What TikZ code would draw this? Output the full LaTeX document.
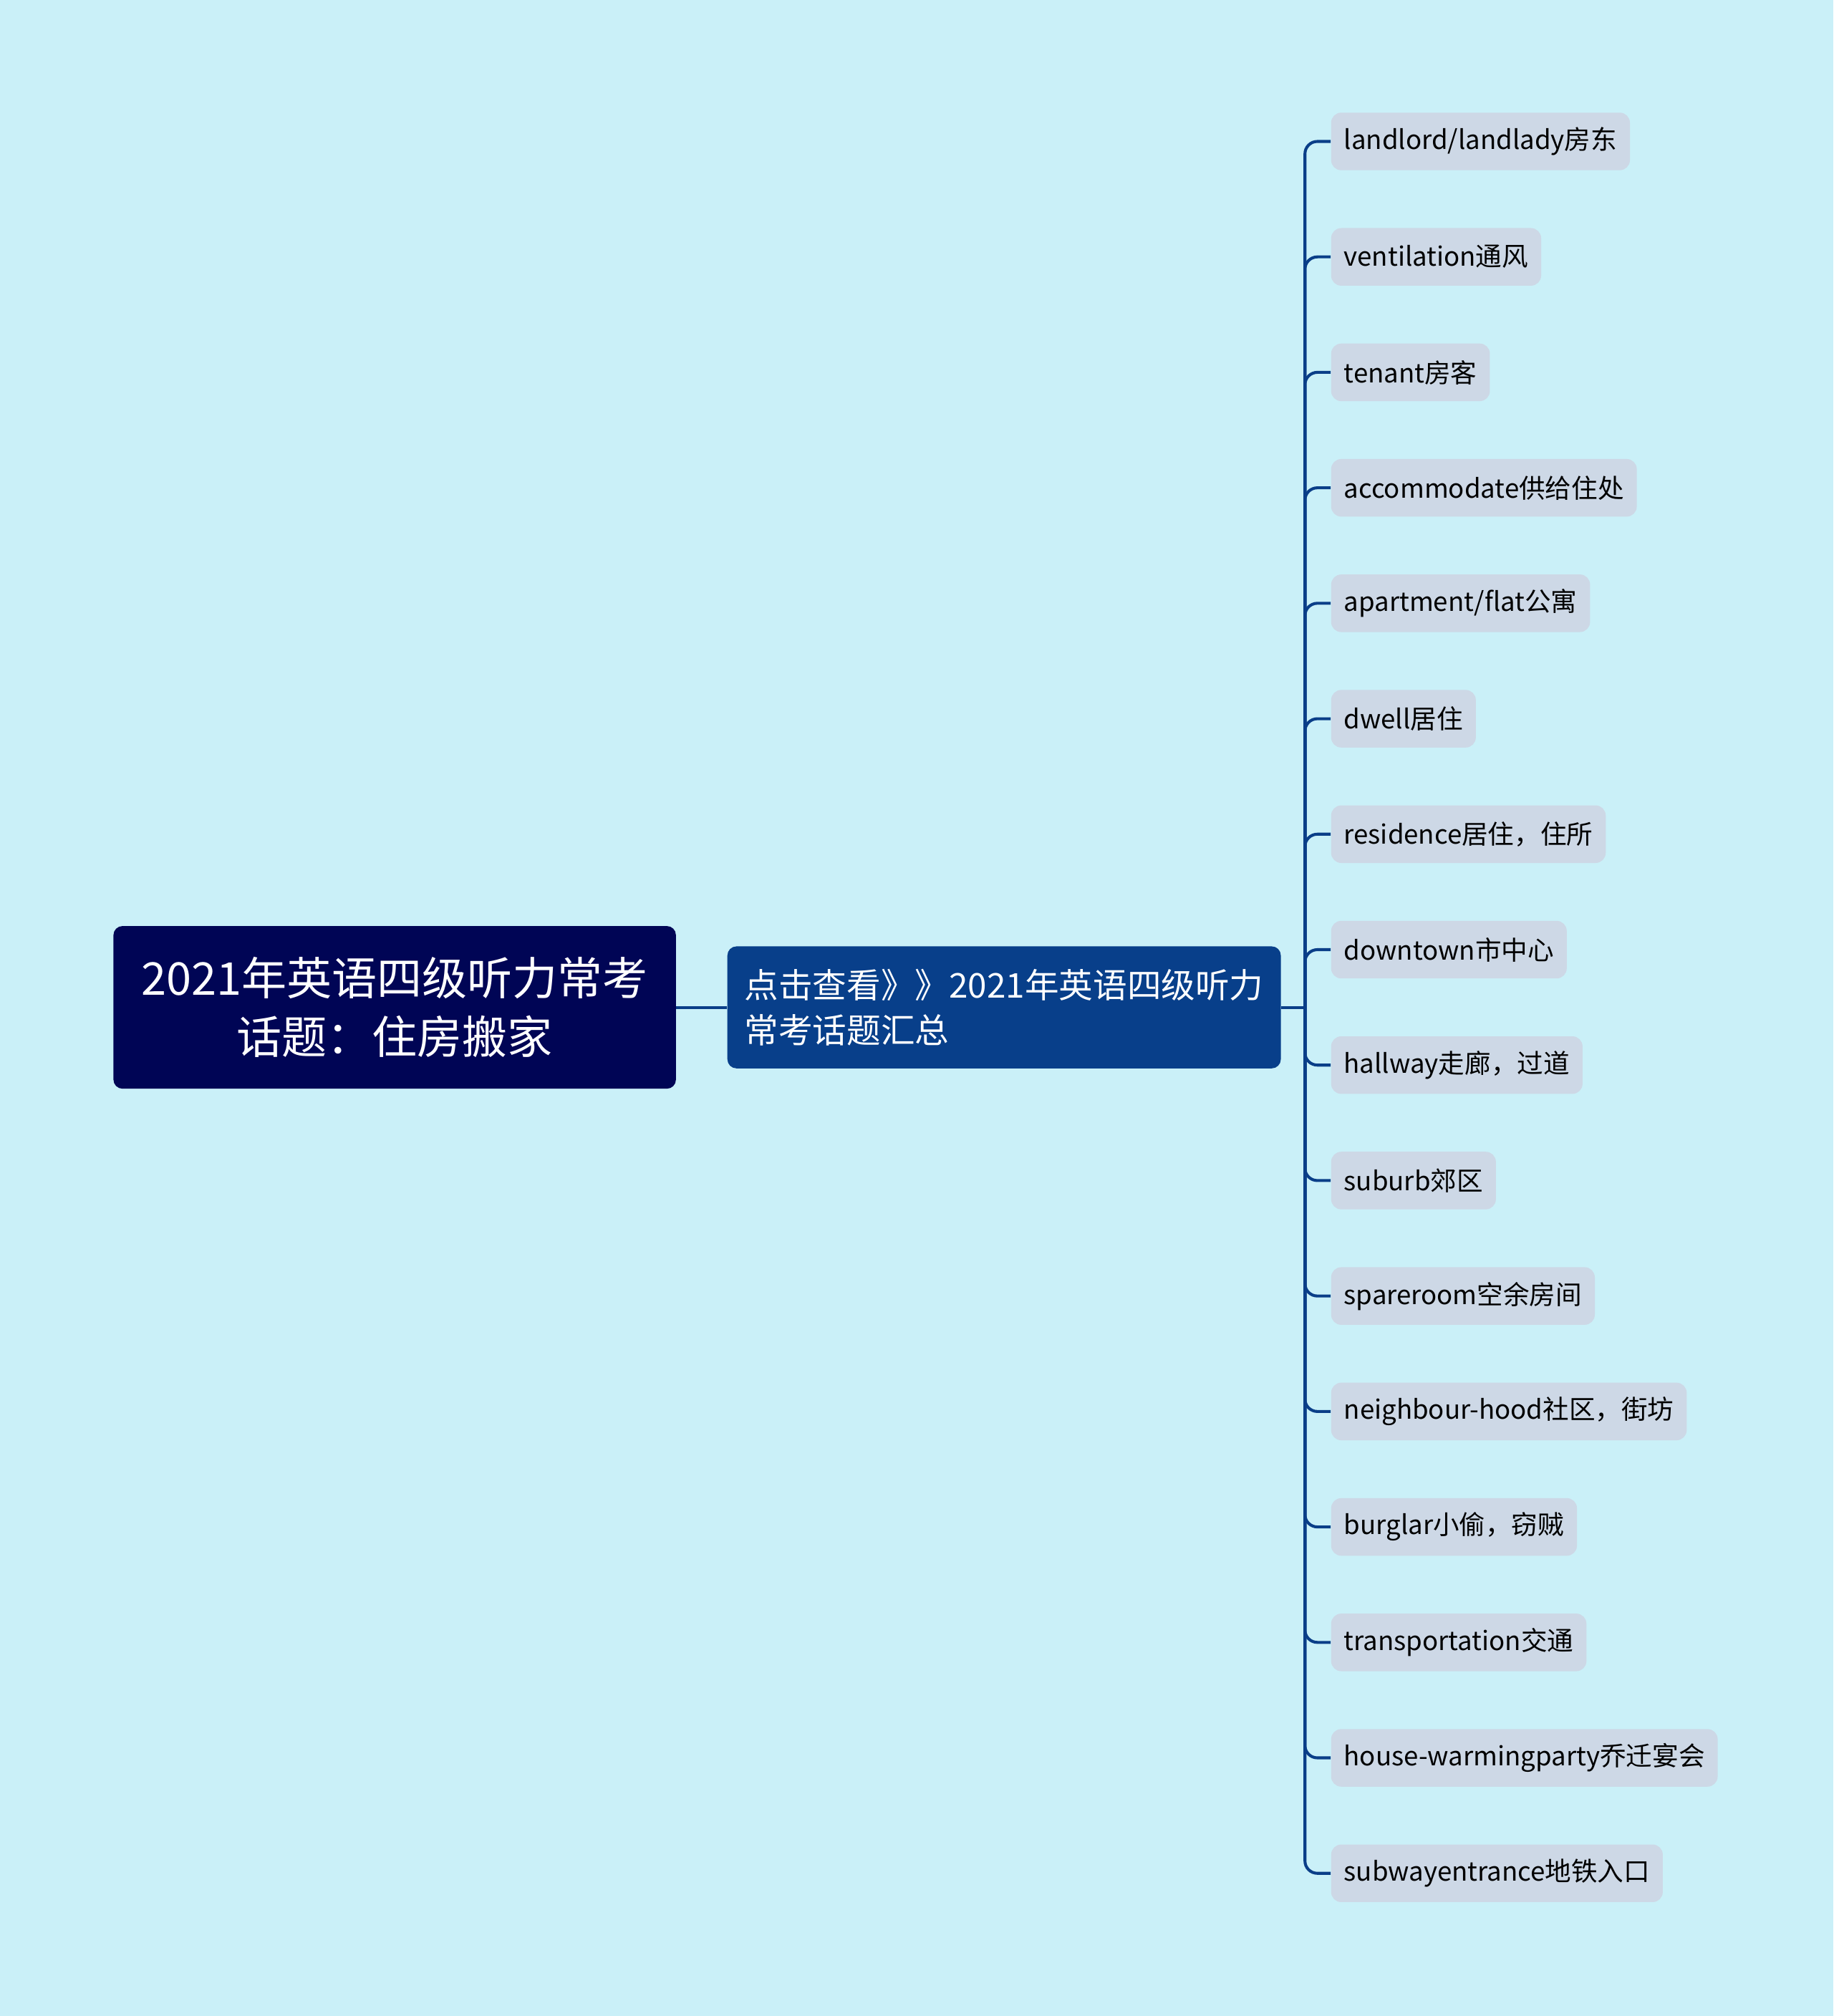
\documentclass[tikz,border=0pt]{standalone}
\usepackage{fontspec}
\setmainfont{Noto Sans CJK SC}
\definecolor{bgcyan}{RGB}{202,240,248}
\definecolor{rootnavy}{RGB}{0,5,85}
\definecolor{midblue}{RGB}{8,63,138}
\definecolor{leafgray}{RGB}{205,216,230}
\definecolor{linkblue}{RGB}{10,62,136}
\begin{document}
\begin{tikzpicture}[x=0.02cm,y=-0.02cm,
    rootbox/.style={fill=rootnavy, text=white, rounded corners=4pt, align=center,
        minimum width=249pt, minimum height=72pt, font=\fontsize{20}{26}\selectfont},
    midbox/.style={fill=midblue, text=white, rounded corners=4pt, align=left,
        minimum width=245pt, minimum height=54pt, font=\fontsize{15.1}{20}\selectfont},
    leafbox/.style={fill=leafgray, text=black, rounded corners=4.5pt, anchor=west,
        inner xsep=5.7pt, minimum height=25.5pt, font=\fontsize{11.6}{14}\selectfont},
    link/.style={draw=linkblue, line width=1.3pt, rounded corners=5.5pt}]
    \useasboundingbox[fill=bgcyan] (0,0) rectangle (1426,1568);

    \node[rootbox] (root) at (307,783.5) {2021年英语四级听力常考\\话题：住房搬家};
    \node[midbox] (mid) at (781,783.5) {点击查看》》2021年英语四级听力\\常考话题汇总};
    \draw[link] (root.east) -- (mid.west);
    \coordinate (trunk) at (1015,783.5);
    \draw[link] (mid.east) -- (trunk);

    \node[leafbox] (w1) at (1035,110) {landlord/landlady房东};
    \node[leafbox] (w2) at (1035,199.8) {ventilation通风};
    \node[leafbox] (w3) at (1035,289.6) {tenant房客};
    \node[leafbox] (w4) at (1035,379.4) {accommodate供给住处};
    \node[leafbox] (w5) at (1035,469.2) {apartment/flat公寓};
    \node[leafbox] (w6) at (1035,559) {dwell居住};
    \node[leafbox] (w7) at (1035,648.8) {residence居住，住所};
    \node[leafbox] (w8) at (1035,738.6) {downtown市中心};
    \node[leafbox] (w9) at (1035,828.4) {hallway走廊，过道};
    \node[leafbox] (w10) at (1035,918.2) {suburb郊区};
    \node[leafbox] (w11) at (1035,1008) {spareroom空余房间};
    \node[leafbox] (w12) at (1035,1097.8) {neighbour-hood社区，街坊};
    \node[leafbox] (w13) at (1035,1187.6) {burglar小偷，窃贼};
    \node[leafbox] (w14) at (1035,1277.4) {transportation交通};
    \node[leafbox] (w15) at (1035,1367.2) {house-warmingparty乔迁宴会};
    \node[leafbox] (w16) at (1035,1457) {subwayentrance地铁入口};

    \draw[link] (trunk) |- (w1.west);
    \draw[link] (trunk) |- (w2.west);
    \draw[link] (trunk) |- (w3.west);
    \draw[link] (trunk) |- (w4.west);
    \draw[link] (trunk) |- (w5.west);
    \draw[link] (trunk) |- (w6.west);
    \draw[link] (trunk) |- (w7.west);
    \draw[link] (trunk) |- (w8.west);
    \draw[link] (trunk) |- (w9.west);
    \draw[link] (trunk) |- (w10.west);
    \draw[link] (trunk) |- (w11.west);
    \draw[link] (trunk) |- (w12.west);
    \draw[link] (trunk) |- (w13.west);
    \draw[link] (trunk) |- (w14.west);
    \draw[link] (trunk) |- (w15.west);
    \draw[link] (trunk) |- (w16.west);
\end{tikzpicture}
\end{document}
